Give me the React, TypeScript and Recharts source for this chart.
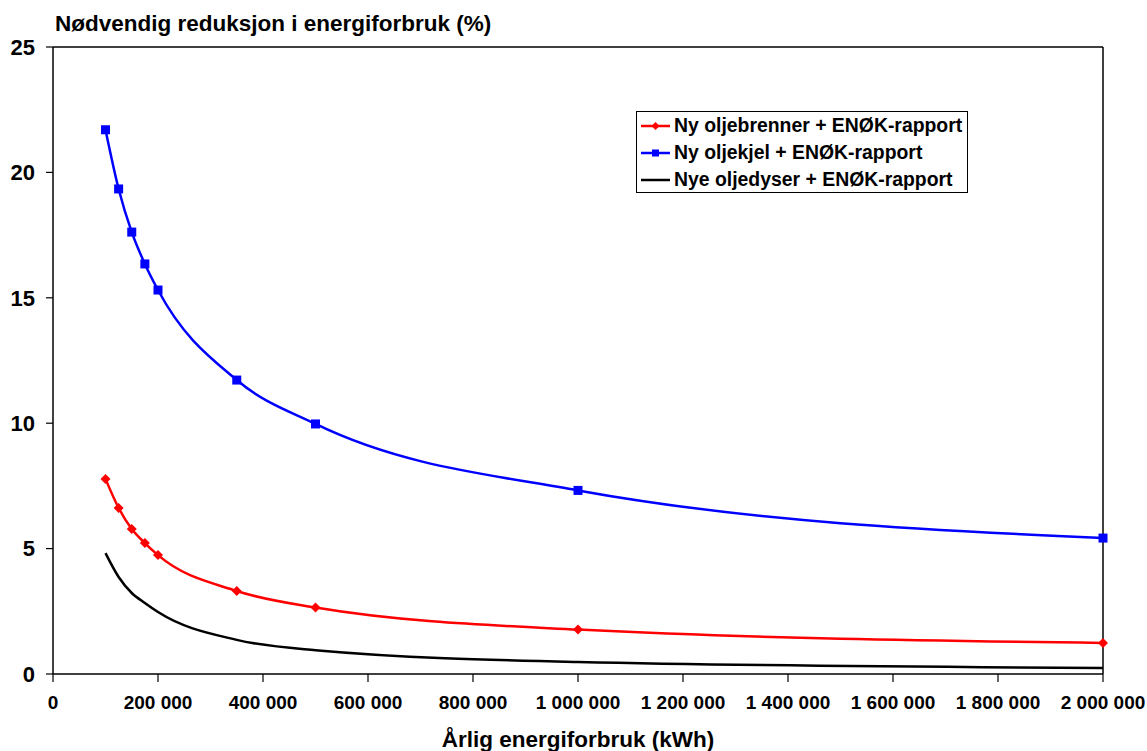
import { LineChart, Line, XAxis, YAxis, ReferenceLine } from 'recharts'

const energyUse = [100000, 125000, 150000, 175000, 200000, 350000, 500000, 1000000, 2000000]
const oilBurner = [7.78, 6.62, 5.78, 5.22, 4.74, 3.31, 2.65, 1.77, 1.24]
const oilBoiler = [21.7, 19.34, 17.62, 16.35, 15.31, 11.72, 9.97, 7.32, 5.42]
const oilNozzles = [4.82, 3.87, 3.23, 2.83, 2.47, 1.36, 0.95, 0.48, 0.24]

const xTicks = [0, 200000, 400000, 600000, 800000, 1000000, 1200000, 1400000, 1600000, 1800000, 2000000]
const yTicks = [0, 5, 10, 15, 20, 25]

const seriesNames = ['Ny oljebrenner + ENØK-rapport', 'Ny oljekjel + ENØK-rapport', 'Nye oljedyser + ENØK-rapport']

const data = energyUse.map((x, i) => ({
  x,
  burner: oilBurner[i],
  boiler: oilBoiler[i],
  nozzles: oilNozzles[i],
}))

const FONT = '"Liberation Sans", Arial, sans-serif'

const fmtThousands = (v: number) => String(v).replace(/\B(?=(\d{3})+(?!\d))/g, ' ')

function Diamond(props: any) {
  const { cx, cy } = props
  if (cx == null || cy == null) return null
  return <polygon points={`${cx},${cy - 5} ${cx + 5},${cy} ${cx},${cy + 5} ${cx - 5},${cy}`} fill="#FF0000" />
}

function Square(props: any) {
  const { cx, cy } = props
  if (cx == null || cy == null) return null
  return <rect x={cx - 4.5} y={cy - 4.5} width={9} height={9} fill="#0000FF" />
}

// legend drawn as a plain box over the plot, like the excel original
function LegendBox() {
  const rows = [
    { color: '#FF0000', marker: 'diamond' },
    { color: '#0000FF', marker: 'square' },
    { color: '#000000', marker: 'none' },
  ]
  return (
    <div
      style={{
        position: 'absolute',
        left: 636,
        top: 111,
        width: 332,
        height: 82,
        border: '1px solid #000',
        background: '#fff',
        fontFamily: FONT,
        fontWeight: 'bold',
        fontSize: 19.4,
        boxSizing: 'border-box',
        color: '#000',
      }}
    >
      {rows.map((r, i) => (
        <div key={i} style={{ display: 'flex', alignItems: 'center', height: 27, whiteSpace: 'nowrap' }}>
          <svg width={37} height={12} style={{ flex: 'none' }}>
            <line x1={4} y1={6} x2={33} y2={6} stroke={r.color} strokeWidth={2.5} />
            {r.marker === 'diamond' && <polygon points="18.5,2 22.5,6 18.5,10 14.5,6" fill={r.color} />}
            {r.marker === 'square' && <rect x={15} y={2.5} width={7} height={7} fill={r.color} />}
          </svg>
          <span>{seriesNames[i]}</span>
        </div>
      ))}
    </div>
  )
}

export default function App() {
  return (
    <div style={{ position: 'absolute', left: 0, top: 0, width: 1147, height: 751, background: '#fff' }}>
      <div
        style={{
          position: 'absolute',
          left: 55,
          top: 13,
          fontFamily: FONT,
          fontWeight: 'bold',
          fontSize: 22.5,
          lineHeight: '22px',
          whiteSpace: 'nowrap',
          color: '#000',
        }}
      >
        Nødvendig reduksjon i energiforbruk (%)
      </div>
      <LineChart width={1147} height={751} data={data} margin={{ top: 47, right: 44, bottom: 0, left: 0 }}>
        <XAxis
          dataKey="x"
          type="number"
          domain={[0, 2000000]}
          ticks={xTicks}
          tickFormatter={fmtThousands}
          height={77}
          tickSize={8}
          tickMargin={14}
          axisLine={{ stroke: '#000', strokeWidth: 1.5 }}
          tickLine={{ stroke: '#000', strokeWidth: 1.2 }}
          tick={{ fill: '#000', fontSize: 19, fontWeight: 'bold', fontFamily: FONT }}
          interval={0}
          label={{
            value: 'Årlig energiforbruk (kWh)',
            position: 'insideBottom',
            offset: 4,
            fill: '#000',
            fontSize: 22.5,
            fontWeight: 'bold',
            fontFamily: FONT,
          }}
        />
        <YAxis
          type="number"
          domain={[0, 25]}
          ticks={yTicks}
          width={53}
          tickSize={7}
          tickMargin={11}
          axisLine={{ stroke: '#000', strokeWidth: 1.5 }}
          tickLine={{ stroke: '#000', strokeWidth: 1.2 }}
          tick={{ fill: '#000', fontSize: 22, fontWeight: 'bold', fontFamily: FONT }}
          interval={0}
        />
        <ReferenceLine y={25} stroke="#000" strokeWidth={1.5} />
        <ReferenceLine x={2000000} stroke="#000" strokeWidth={1.5} />
        <Line
          type="monotone"
          dataKey="burner"
          name={seriesNames[0]}
          stroke="#FF0000"
          strokeWidth={2.5}
          dot={<Diamond />}
          activeDot={false}
          isAnimationActive={false}
        />
        <Line
          type="monotone"
          dataKey="boiler"
          name={seriesNames[1]}
          stroke="#0000FF"
          strokeWidth={2.5}
          dot={<Square />}
          activeDot={false}
          isAnimationActive={false}
        />
        <Line
          type="monotone"
          dataKey="nozzles"
          name={seriesNames[2]}
          stroke="#000000"
          strokeWidth={2.5}
          dot={false}
          activeDot={false}
          isAnimationActive={false}
        />
      </LineChart>
      <LegendBox />
    </div>
  )
}
